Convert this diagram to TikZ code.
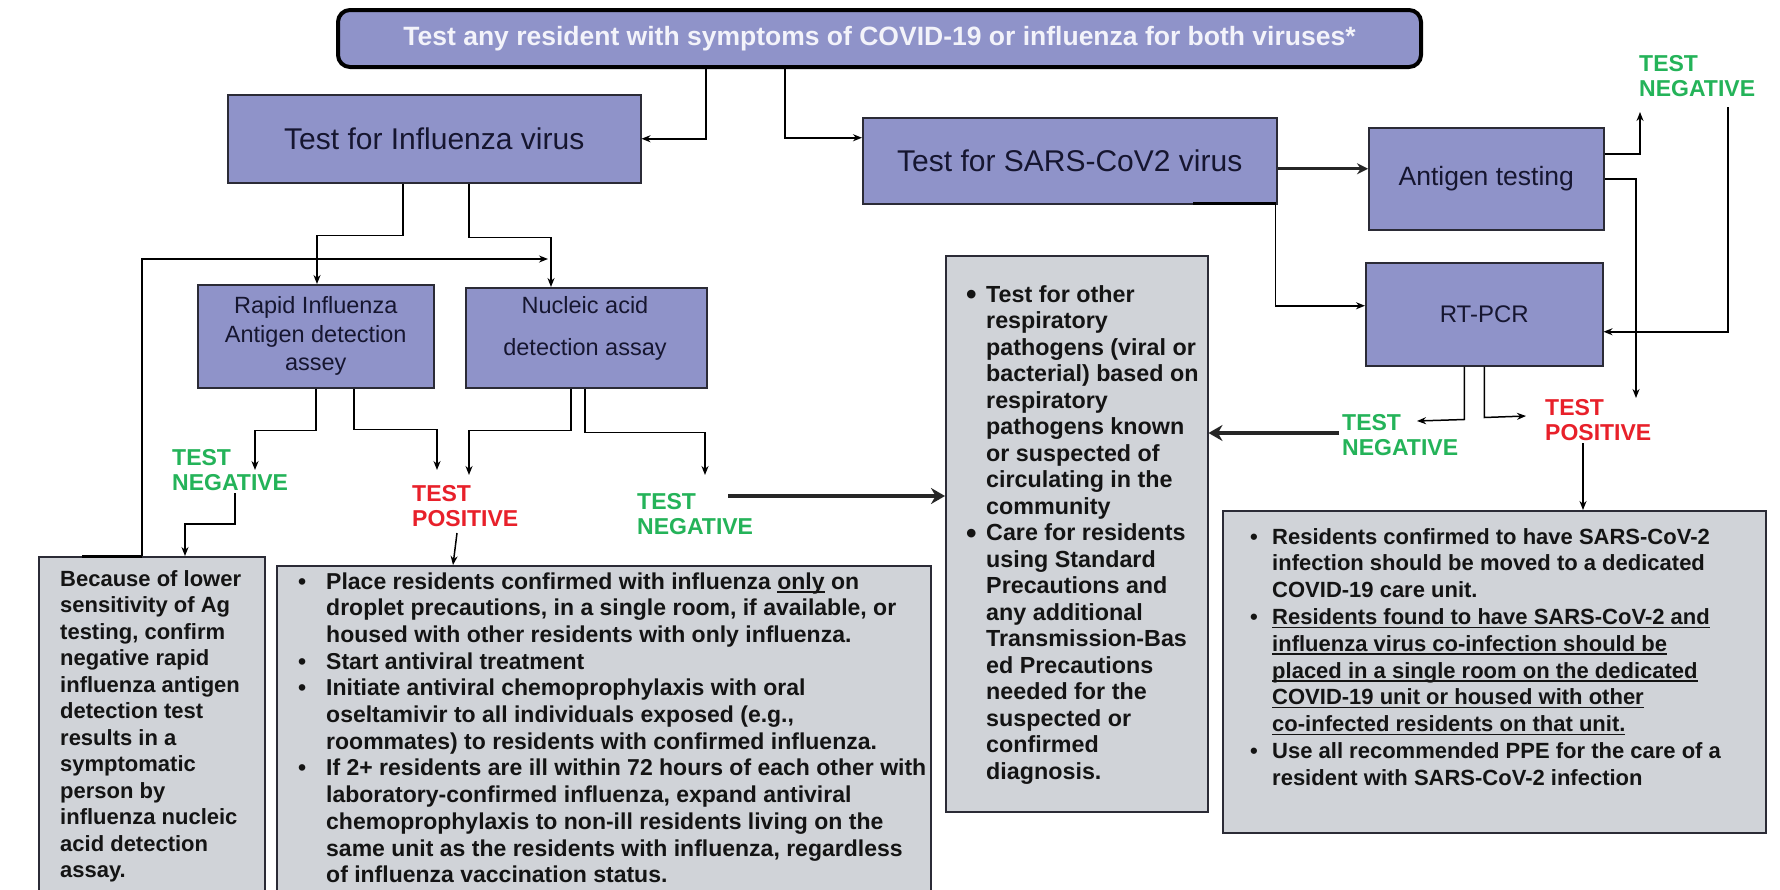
\documentclass[tikz,border=0pt]{standalone}
\usepackage{fontspec}
\setmainfont{Liberation Sans}
\usetikzlibrary{arrows.meta}
\definecolor{lav}{HTML}{8F93C9}
\definecolor{gbox}{HTML}{D0D3D8}
\definecolor{gtxt}{HTML}{24B359}
\definecolor{rtxt}{HTML}{E8202A}
\definecolor{edge}{HTML}{2B2B36}
\definecolor{navy}{HTML}{161630}
\definecolor{toptxt}{HTML}{F3F3FA}
\newcommand{\bt}{\makebox[28pt][l]{\textbullet}}
\newcommand{\bts}{\makebox[22pt][l]{\textbullet}}
\newcommand{\bigbul}{\makebox[20pt][l]{\raisebox{-2.5pt}{\fontsize{30}{30}\selectfont\textbullet}}}
\newcommand{\ulx}[1]{\setbox0\hbox{#1}\rlap{\rule[-3.5pt]{\wd0}{1.3pt}}\box0\relax}
\tikzset{
  lbox/.style={draw=edge, line width=1.5pt, fill=lav, inner sep=0pt, anchor=north west, text=navy, align=center},
  gbx/.style={draw=edge, line width=1.5pt, fill=gbox, inner sep=0pt, anchor=north west},
  body/.style={inner sep=0pt, anchor=base west, text=black!92, font=\fontsize{22}{26.5}\selectfont\bfseries},
  bodyb/.style={body, font=\fontsize{22}{26.8}\selectfont\bfseries},
  bodyc/.style={body, font=\fontsize{23}{26.7}\selectfont\bfseries},
  bodym/.style={body, font=\fontsize{23.3}{26.5}\selectfont\bfseries},
  lbl/.style={inner sep=0pt, anchor=base west, font=\fontsize{23}{25}\selectfont\bfseries},
  neglbl/.style={lbl, text=gtxt},
  poslbl/.style={lbl, text=rtxt},
  conn/.style={draw=black, line width=1.5pt, -{Stealth[length=9pt,width=7pt]}},
  midarrow/.style={draw=black!85, line width=3pt, -{Stealth[length=11pt,width=11pt]}},
  bigarrow/.style={draw=black!85, line width=4pt, -{Stealth[length=14pt,width=16pt]}},
}
\begin{document}
\begin{tikzpicture}[x=1pt,y=-1pt]
\useasboundingbox (0,0) rectangle (1780,889);
\clip (0,0) rectangle (1780,889);
\fill[white] (0,0) rectangle (1780,889);

% top box
\node[draw=black, line width=4pt, rounded corners=12pt, fill=lav, minimum width=1083pt, minimum height=57pt,
      anchor=north west, inner sep=0pt, text=toptxt, font=\fontsize{26.5}{30}\selectfont\bfseries]
  (top) at (336,8) {Test any resident with symptoms of COVID-19 or influenza for both viruses*};

% blue boxes
\node[lbox, minimum width=413pt, minimum height=88pt, font=\fontsize{30}{34}\selectfont] (flu) at (227,94) {Test for Influenza virus};
\node[lbox, minimum width=414pt, minimum height=86pt, font=\fontsize{30}{34}\selectfont] (sars) at (862,117) {Test for SARS-CoV2 virus};
\node[lbox, minimum width=235pt, minimum height=102pt, font=\fontsize{26.5}{30}\selectfont] (antigen) at (1368,127) {Antigen testing};
\node[lbox, minimum width=237pt, minimum height=103pt, font=\fontsize{24}{28}\selectfont] (rtpcr) at (1365,262) {RT-PCR};
\node[lbox, minimum width=236pt, minimum height=103pt, font=\fontsize{23.5}{28.5}\selectfont] (rapid) at (197,284) {Rapid Influenza\\Antigen detection\\assey};
\node[lbox, minimum width=241pt, minimum height=100pt] (nucleic) at (465,287) {};
\node[inner sep=0pt, align=center, text=navy, font=\fontsize{23.5}{28.5}\selectfont] (nucleictxt) at (585,328) {Nucleic acid\\[13.5pt]detection assay};

% grey boxes
\node[gbx, minimum width=226pt, minimum height=360pt] (because) at (38,556) {};
\node[gbx, minimum width=654pt, minimum height=360pt] (posbox) at (276,565) {};
\node[gbx, minimum width=262pt, minimum height=556pt] (mid) at (945,255) {};
\node[gbx, minimum width=543pt, minimum height=322pt] (sarspos) at (1222,510) {};
\draw[line width=3pt] (82,556) -- (142,556);
\draw[line width=3pt] (1193,203) -- (1276,203);

% grey box texts
\node[body] (becausetxt) at (60,586) {\begin{tabular}[t]{@{}l@{}}
Because of lower\\ sensitivity of Ag\\ testing, confirm\\ negative rapid\\ influenza antigen\\
detection test\\ results in a\\ symptomatic\\ person by\\ influenza nucleic\\ acid detection\\ assay.
\end{tabular}};

\node[bodyc] (postxt) at (298,589) {\begin{tabular}[t]{@{}l@{}l@{}}
\bt & Place residents confirmed with influenza \ulx{only} on\\
& droplet precautions, in a single room, if available, or\\
& housed with other residents with only influenza.\\
\bt & Start antiviral treatment\\
\bt & Initiate antiviral chemoprophylaxis with oral\\
& oseltamivir to all individuals exposed (e.g.,\\
& roommates) to residents with confirmed influenza.\\
\bt & If 2+ residents are ill within 72 hours of each other with\\
& laboratory-confirmed influenza, expand antiviral\\
& chemoprophylaxis to non-ill residents living on the\\
& same unit as the residents with influenza, regardless\\
& of influenza vaccination status.
\end{tabular}};

\node[bodym] (midtxt) at (966,302) {\begin{tabular}[t]{@{}l@{}l@{}}
\bigbul & Test for other\\
& respiratory\\
& pathogens (viral or\\
& bacterial) based on\\
& respiratory\\
& pathogens known\\
& or suspected of\\
& circulating in the\\
& community\\
\bigbul & Care for residents\\
& using Standard\\
& Precautions and\\
& any additional\\
& Transmission-Bas\\
& ed Precautions\\
& needed for the\\
& suspected or\\
& confirmed\\
& diagnosis.
\end{tabular}};

\node[bodyb] (sarspostxt) at (1250,544) {\begin{tabular}[t]{@{}l@{}l@{}}
\bts & Residents confirmed to have SARS-CoV-2\\
& infection should be moved to a dedicated\\
& COVID-19 care unit.\\
\bts & \ulx{Residents found to have SARS-CoV-2 and}\\
& \ulx{influenza virus co-infection should be}\\
& \ulx{placed in a single room on the dedicated}\\
& \ulx{COVID-19 unit or housed with other}\\
& \ulx{co-infected residents on that unit.}\\
\bts & Use all recommended PPE for the care of a\\
& resident with SARS-CoV-2 infection
\end{tabular}};

% result labels
\node[neglbl] (neg1) at (172,465) {\begin{tabular}[t]{@{}l@{}}TEST\\NEGATIVE\end{tabular}};
\node[poslbl] (pos1) at (412,501) {\begin{tabular}[t]{@{}l@{}}TEST\\POSITIVE\end{tabular}};
\node[neglbl] (neg2) at (637,509) {\begin{tabular}[t]{@{}l@{}}TEST\\NEGATIVE\end{tabular}};
\node[neglbl] (neg3) at (1639,71) {\begin{tabular}[t]{@{}l@{}}TEST\\NEGATIVE\end{tabular}};
\node[neglbl] (neg4) at (1342,430) {\begin{tabular}[t]{@{}l@{}}TEST\\NEGATIVE\end{tabular}};
\node[poslbl] (pos2) at (1545,415) {\begin{tabular}[t]{@{}l@{}}TEST\\POSITIVE\end{tabular}};

% free-end coordinates
\coordinate (loopend) at (548,259);
\coordinate (n1in) at (255,470);
\coordinate (p1in) at (437,470);
\coordinate (p1in2) at (469,475);
\coordinate (n2in) at (705,475);
\coordinate (n1out) at (235,493);
\coordinate (p1out) at (457,533);
\coordinate (n2out) at (728,496);
\coordinate (s1) at ([yshift=-8pt]sars.east);
\coordinate (n3in) at (1640,112);
\coordinate (p2in) at (1636,398);
\coordinate (n3out) at (1728,107);
\coordinate (n4in) at (1417,421);
\coordinate (p2in2) at (1526,416);
\coordinate (n4out) at (1339,433);
\coordinate (p2out) at (1583,443);

% connectors
\draw[conn] ([xshift=370pt]top.south west) |- (flu.east);
\draw[conn] ([xshift=449pt]top.south west) |- ([yshift=23pt]sars.west);
\draw[conn] ([xshift=176pt]flu.south west) -- ++(0,52) -| ([xshift=120pt]rapid.north west);
\draw[conn] ([xshift=242pt]flu.south west) -- ++(0,54) -| ([xshift=86pt]nucleic.north west);
\draw[conn] ([xshift=104pt]because.north west) |- (loopend);
\draw[conn] ([xshift=119pt]rapid.south west) -- ++(0,42) -| (n1in);
\draw[conn] ([xshift=157pt]rapid.south west) -- ++(0,41) -| (p1in);
\draw[conn] ([xshift=106pt]nucleic.south west) -- ++(0,42) -| (p1in2);
\draw[conn] ([xshift=120pt]nucleic.south west) -- ++(0,44) -| (n2in);
\draw[conn] (n1out) -- ++(0,31) -| ([xshift=147pt]because.north west);
\draw[conn] (p1out) -- ([xshift=177pt]posbox.north west);
\draw[bigarrow] (n2out) -- (n2out -| mid.west);
\draw[midarrow] (s1) -- (s1 -| antigen.west);
\draw[conn] ([xshift=-2pt]sars.south east) |- ([yshift=8.5pt]rtpcr.west);
\draw[conn] ([yshift=25pt]antigen.east) -| (n3in);
\draw[conn] (antigen.east) -| (p2in);
\draw[conn] (n3out) |- ([yshift=-17.5pt]rtpcr.east);
\draw[conn] ([xshift=-20pt]rtpcr.south) -- ++(0,53) -- (n4in);
\draw[conn] (rtpcr.south) -- ++(0,51) -- (p2in2);
\draw[bigarrow] (n4out) -- (n4out -| mid.east);
\draw[conn] (p2out) -- ([xshift=361pt]sarspos.north west);
\end{tikzpicture}
\end{document}
